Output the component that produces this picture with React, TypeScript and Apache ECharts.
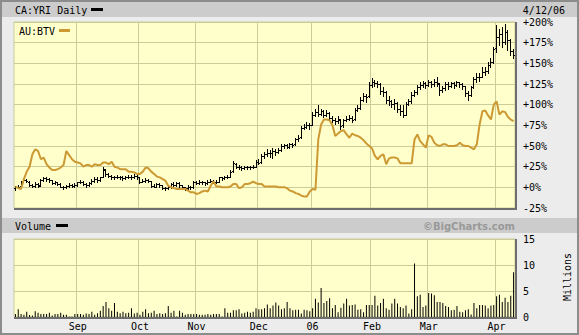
import React, { useEffect, useRef } from "react";
import * as echarts from "echarts";

// YRI (percent change) daily OHLC
const yriOpen = [
  -1, 0, 2, 7, 9, 7, 3, 2, 4, 3,
  9, 11, 10, 9, 5, 6, 4, 1, 0, 2,
  3, 2, 3, 6, 7, 4, 3, 5, 8, 10,
  9, 13, 21, 16, 14, 12, 12, 13, 12, 11,
  12, 13, 12, 14, 12, 7, 8, 9, 8, 2,
  1, 4, 3, -1, -1, 0, 4, 3, 5, 3,
  0, -1, 1, 0, 6, 5, 7, 6, 5, 7,
  8, 6, 7, 12, 11, 12, 13, 20, 28, 25,
  24, 23, 24, 24, 24, 25, 31, 31, 38, 40,
  42, 41, 44, 43, 45, 50, 51, 49, 52, 52,
  58, 61, 72, 73, 76, 76, 88, 91, 89, 92,
  88, 90, 84, 82, 80, 82, 75, 81, 83, 84,
  83, 93, 96, 106, 110, 110, 124, 127, 126, 125,
  117, 115, 106, 104, 101, 102, 95, 92, 88, 101,
  104, 112, 115, 121, 124, 126, 124, 127, 125, 128,
  125, 118, 120, 125, 123, 126, 124, 127, 125, 122,
  114, 112, 121, 131, 133, 134, 140, 141, 148, 152,
  168, 182, 185, 176, 188, 178, 165,
];
const yriHigh = [
  2, 3, 8, 11, 10, 8, 4, 6, 5, 10,
  12, 12, 11, 9, 8, 7, 5, 2, 3, 5,
  4, 5, 7, 9, 8, 5, 7, 10, 12, 12,
  13, 25, 22, 17, 15, 14, 15, 14, 14, 14,
  15, 15, 16, 15, 12, 10, 11, 10, 8, 4,
  5, 5, 3, 1, 2, 5, 6, 7, 6, 3,
  1, 3, 2, 8, 8, 9, 8, 7, 9, 10,
  9, 9, 13, 13, 14, 15, 21, 32, 29, 27,
  26, 26, 26, 26, 27, 33, 34, 40, 43, 46,
  45, 47, 46, 48, 52, 53, 53, 54, 54, 60,
  63, 74, 77, 79, 78, 91, 95, 100, 95, 94,
  93, 91, 86, 84, 86, 83, 83, 86, 87, 86,
  96, 100, 109, 114, 113, 127, 132, 130, 129, 126,
  121, 116, 110, 106, 107, 103, 99, 100, 103, 107,
  115, 118, 124, 127, 129, 128, 130, 129, 131, 134,
  126, 123, 128, 127, 128, 127, 129, 128, 126, 123,
  117, 123, 134, 138, 138, 145, 146, 152, 156, 170,
  196, 192, 194, 197, 190, 179, 167,
];
const yriLow = [
  -3, -1, 1, 6, 6, 2, 0, 1, 1, 2,
  8, 8, 7, 4, 4, 3, 0, -2, -1, 1,
  0, 1, 2, 5, 3, 1, 2, 4, 7, 7,
  8, 12, 14, 12, 10, 10, 11, 10, 9, 10,
  11, 10, 11, 10, 5, 6, 7, 6, 1, 0,
  0, 1, -2, -3, -2, -1, 2, 2, 1, -2,
  -3, -2, -2, -1, 4, 4, 4, 3, 4, 6,
  5, 5, 6, 9, 10, 11, 12, 19, 23, 22,
  21, 22, 22, 22, 23, 24, 28, 30, 36, 38,
  37, 36, 39, 41, 44, 48, 47, 48, 49, 51,
  56, 60, 70, 72, 71, 75, 86, 86, 87, 85,
  86, 82, 79, 77, 78, 71, 73, 80, 81, 79,
  82, 92, 95, 104, 103, 109, 121, 122, 121, 113,
  111, 102, 100, 97, 95, 91, 87, 85, 87, 99,
  102, 110, 113, 119, 121, 120, 122, 121, 123, 122,
  112, 115, 118, 119, 121, 120, 122, 121, 119, 110,
  106, 111, 120, 128, 129, 133, 136, 138, 145, 150,
  164, 172, 170, 173, 166, 160, 156,
];
const yriClose = [
  0, 1, 7, 9, 8, 3, 2, 4, 2, 9,
  11, 10, 9, 5, 6, 4, 1, 0, 2, 3,
  2, 3, 6, 7, 4, 3, 5, 8, 10, 9,
  12, 22, 16, 14, 12, 12, 13, 12, 11, 12,
  13, 12, 14, 12, 7, 8, 9, 8, 2, 1,
  4, 3, -1, -1, 0, 4, 3, 5, 3, 0,
  -1, 1, 0, 6, 5, 7, 6, 5, 7, 8,
  6, 7, 12, 11, 12, 13, 19, 29, 25, 24,
  23, 24, 24, 24, 25, 31, 30, 38, 40, 42,
  41, 44, 43, 45, 50, 51, 49, 52, 51, 58,
  60, 72, 73, 76, 75, 88, 91, 89, 92, 88,
  90, 84, 82, 80, 83, 74, 81, 83, 84, 82,
  93, 96, 106, 110, 109, 124, 127, 126, 125, 117,
  115, 106, 104, 101, 102, 95, 92, 87, 101, 104,
  112, 115, 121, 124, 126, 124, 127, 125, 128, 126,
  118, 120, 125, 123, 126, 124, 127, 125, 123, 114,
  112, 121, 131, 133, 134, 140, 141, 148, 152, 167,
  182, 185, 176, 188, 178, 165, 160,
];
// AU:BTV (percent change)
const btv = [
  1, -1, -2, 10, 19, 25, 40, 46, 44, 34,
  36, 28, 24, 21, 21, 22, 24, 27, 44, 39,
  34, 31, 30, 29, 25, 27, 27, 25, 28, 27,
  27, 30, 30, 28, 31, 25, 24, 22, 22, 22,
  19, 19, 18, 16, 16, 19, 24, 23, 19, 16,
  13, 12, 10, 8, 2, 0, -1, -2, -2, -2,
  -2, -4, -6, -6, -8, -7, -5, -4, -5, 2,
  7, 1, 1, 0, 0, 0, 1, 4, 4, -1,
  0, 4, 4, 5, 7, 5, 4, 4, 1, 1,
  1, 1, 1, 0, 0, 0, -1, -4, -5, -7,
  -8, -10, -11, -11, -5, -2, -3, 58, 76, 82,
  82, 81, 75, 62, 65, 68, 69, 64, 60, 65,
  63, 62, 60, 57, 53, 50, 47, 38, 34, 38,
  40, 28, 35, 36, 36, 35, 29, 29, 29, 29,
  29, 58, 64, 56, 52, 48, 63, 61, 54, 51,
  50, 52, 52, 50, 50, 50, 51, 54, 51, 50,
  50, 48, 46, 52, 76, 92, 93, 87, 82, 100,
  104, 88, 92, 91, 85, 82, 80,
];
// Volume (millions)
const volume = [
  0.6, 1.5, 0.6, 0.45, 1.0, 0.4, 0.3, 1.1, 0.8, 0.6,
  0.6, 0.6, 0.8, 0.3, 0.6, 0.6, 0.8, 0.45, 0.45, 0.1,
  0.1, 0.6, 0.6, 0.6, 0.45, 0.65, 0.6, 1.0, 0.45, 0.7,
  1.2, 2.1, 2.9, 1.7, 1.2, 2.7, 1.0, 0.7, 1.0, 0.7,
  0.8, 1.7, 0.65, 0.8, 0.45, 1.0, 1.5, 0.7, 0.8, 1.2,
  0.6, 0.7, 0.6, 0.7, 2.1, 0.8, 1.2, 0.1, 1.2, 0.8,
  0.45, 0.6, 0.6, 0.6, 0.6, 0.45, 0.45, 0.45, 0.6, 0.45,
  0.6, 0.6, 0.6, 0.1, 1.7, 0.8, 0.8, 1.3, 1.3, 1.5,
  0.65, 0.8, 1.0, 0.8, 1.0, 1.7, 1.5, 1.5, 1.7, 2.4,
  1.7, 2.2, 2.8, 2.2, 1.5, 1.7, 2.9, 1.7, 1.3, 1.4,
  1.4, 0.65, 1.4, 1.3, 1.1, 1.7, 3.5, 2.8, 5.6, 2.7,
  3.1, 3.6, 1.7, 2.3, 0.9, 1.8, 2.6, 3.5, 2.2, 2.3,
  2.4, 1.4, 1.5, 0.9, 2.3, 2.3, 2.3, 4.1, 2.2, 2.7,
  3.5, 1.7, 1.4, 2.6, 3.5, 2.6, 1.9, 1.7, 2.2, 0.65,
  1.5, 10.3, 4.0, 4.3, 1.9, 2.2, 4.6, 4.5, 4.2, 2.9,
  2.9, 2.7, 2.1, 1.9, 1.3, 1.4, 2.1, 1.0, 0.9, 1.3,
  1.5, 0.5, 2.7, 1.7, 2.3, 2.3, 2.2, 1.7, 2.2, 2.3,
  4.0, 4.3, 2.9, 3.7, 2.9, 4.1, 8.6,
];
const monthTickIndex = [22, 44, 64, 86, 105, 126, 146, 170];
const monthTickLabel = ["Sep", "Oct", "Nov", "Dec", "06", "Feb", "Mar", "Apr"];
const priceMin = -25;
const priceMax = 200;
const priceStep = 25;
const volMin = 0;
const volMax = 15;
const volStep = 5;

const days = yriClose.map((_, i) => String(i));

const MONO = '"DejaVu Sans Mono", monospace';
const GRID_C = "#cccc99";
const PLOT_BG = "#ffffcc";

export default function App() {
  const ref = useRef<HTMLDivElement>(null);
  useEffect(() => {
    if (!ref.current) return;
    const chart = echarts.init(ref.current, null, { renderer: "svg" });
    const isMonth = (idx: number) => monthTickIndex.indexOf(idx) >= 0;
    const ohlc = yriClose.map((c, i) => [i, yriOpen[i], yriHigh[i], yriLow[i], c]);

    const txt = (text: string, x: number, y: number, extra: any = {}) => ({
      type: "text",
      z: 10,
      style: {
        text,
        x,
        y,
        font: `10px ${MONO}`,
        fill: "#000",
        align: "left",
        verticalAlign: "middle",
        textAlign: "left",
        textVerticalAlign: "middle",
        ...extra,
      },
    });

    chart.setOption({
      animation: false,
      backgroundColor: "#ececec",
      grid: [
        { left: 14, top: 22, width: 501, height: 186, show: true, backgroundColor: PLOT_BG, borderColor: GRID_C, borderWidth: 1 },
        { left: 14, top: 239, width: 501, height: 78, show: true, backgroundColor: PLOT_BG, borderColor: GRID_C, borderWidth: 1 },
      ],
      xAxis: [0, 1].map((g) => ({
        type: "category",
        gridIndex: g,
        data: days,
        boundaryGap: true,
        axisLine: { show: false },
        axisTick: { show: false },
        axisLabel: {
          show: g === 1,
          interval: (idx: number) => isMonth(idx),
          formatter: (_v: string, idx: number) => {
            const k = monthTickIndex.indexOf(idx);
            return k >= 0 ? monthTickLabel[k] : "";
          },
          fontFamily: MONO,
          fontSize: 10,
          color: "#000",
          margin: 4,
        },
        splitLine: {
          show: true,
          interval: (idx: number) => isMonth(idx),
          lineStyle: { color: GRID_C, width: 1 },
        },
      })),
      yAxis: [
        {
          type: "value",
          gridIndex: 0,
          position: "right",
          min: priceMin,
          max: priceMax,
          interval: priceStep,
          axisLine: { show: false },
          axisTick: { show: false },
          axisLabel: {
            margin: 8,
            fontFamily: MONO,
            fontSize: 10,
            color: "#000",
            formatter: (v: number) => (v >= 0 ? "+" + v + "%" : v + "%"),
          },
          splitLine: { lineStyle: { color: GRID_C, width: 1 } },
        },
        {
          type: "value",
          gridIndex: 1,
          position: "right",
          min: volMin,
          max: volMax,
          interval: volStep,
          axisLine: { show: false },
          axisTick: { show: false },
          axisLabel: { margin: 8, fontFamily: MONO, fontSize: 10, color: "#000" },
          splitLine: { lineStyle: { color: GRID_C, width: 1 } },
        },
      ],
      series: [
        {
          type: "custom",
          xAxisIndex: 0,
          yAxisIndex: 0,
          data: ohlc,
          encode: { x: 0, y: [1, 2, 3, 4] },
          renderItem: (_p: any, api: any) => {
            const i = api.value(0);
            const o = api.coord([i, api.value(1)]);
            const h = api.coord([i, api.value(2)]);
            const l = api.coord([i, api.value(3)]);
            const c = api.coord([i, api.value(4)]);
            const x = Math.floor(h[0]) + 0.5;
            const oy = Math.round(o[1]) + 0.5;
            const cy = Math.round(c[1]) + 0.5;
            const st = { stroke: "#000", lineWidth: 1 };
            return {
              type: "group",
              children: [
                { type: "line", shape: { x1: x, y1: Math.round(h[1]), x2: x, y2: Math.round(l[1]) + 1 }, style: st },
                { type: "line", shape: { x1: x - 1.5, y1: oy, x2: x - 0.5, y2: oy }, style: st },
                { type: "line", shape: { x1: x + 0.5, y1: cy, x2: x + 1.5, y2: cy }, style: st },
              ],
            };
          },
          z: 2,
        },
        {
          type: "line",
          xAxisIndex: 0,
          yAxisIndex: 0,
          data: btv,
          symbol: "none",
          lineStyle: { color: "#cc9933", width: 2 },
          z: 3,
        },
        {
          type: "bar",
          xAxisIndex: 1,
          yAxisIndex: 1,
          data: volume,
          barWidth: 1,
          itemStyle: { color: "#000" },
        },
      ],
      graphic: [
        { type: "rect", z: 1, shape: { x: 1, y: 1, width: 577, height: 333 }, style: { fill: "none", stroke: "#8c8c8c", lineWidth: 2 } },
        { type: "rect", z: 1, shape: { x: 2, y: 2, width: 575, height: 15 }, style: { fill: "#cccccc" } },
        { type: "rect", z: 1, shape: { x: 2, y: 218, width: 575, height: 15 }, style: { fill: "#cccccc" } },
        txt("CA:YRI Daily", 15, 10),
        { type: "rect", z: 10, shape: { x: 91, y: 8, width: 12, height: 3 }, style: { fill: "#000" } },
        txt("4/12/06", 565, 10, { align: "right", textAlign: "right" }),
        txt("AU:BTV", 19, 31),
        { type: "rect", z: 10, shape: { x: 59, y: 29, width: 11, height: 3 }, style: { fill: "#cc9933" } },
        txt("Volume", 15, 226),
        { type: "rect", z: 10, shape: { x: 56, y: 224, width: 12, height: 3 }, style: { fill: "#000" } },
        txt("\u00a9BigCharts.com", 515, 226, {
          align: "right",
          textAlign: "right",
          font: 'bold 10px "DejaVu Sans", sans-serif',
          fill: "#999999",
        }),
        {
          type: "text",
          z: 10,
          x: 567,
          y: 277,
          rotation: Math.PI / 2,
          style: {
            text: "Millions",
            x: 0,
            y: 0,
            font: `10px ${MONO}`,
            fill: "#000",
            align: "center",
            verticalAlign: "middle",
            textAlign: "center",
            textVerticalAlign: "middle",
          },
        },
        // dark bottom/right edges of plots
        { type: "rect", z: 10, shape: { x: 14, y: 208, width: 503, height: 2 }, style: { fill: "#6e6e6e" } },
        { type: "rect", z: 10, shape: { x: 515, y: 22, width: 2, height: 188 }, style: { fill: "#6e6e6e" } },
        { type: "rect", z: 10, shape: { x: 14, y: 317, width: 503, height: 2 }, style: { fill: "#6e6e6e" } },
        { type: "rect", z: 10, shape: { x: 515, y: 239, width: 2, height: 80 }, style: { fill: "#6e6e6e" } },
      ],
    });
    return () => chart.dispose();
  }, []);
  return (
    <div
      ref={ref}
      style={{ position: "absolute", left: 0, top: 0, width: 579, height: 335 }}
    />
  );
}
